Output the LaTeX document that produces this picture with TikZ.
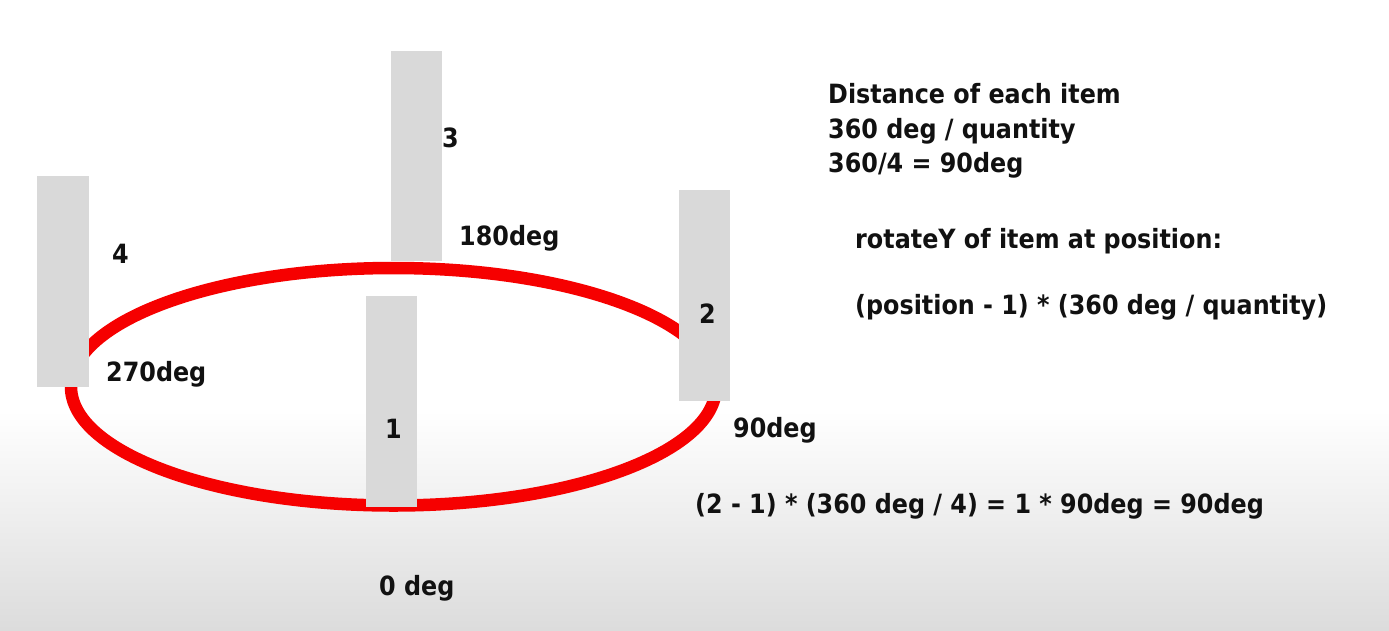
\documentclass[tikz,border=0pt]{standalone}
\usepackage{fontspec}
\setmainfont[FakeStretch=0.9]{DejaVu Sans}
\definecolor{bargray}{RGB}{217,217,217}
\definecolor{ringred}{RGB}{246,0,0}
\definecolor{txt}{RGB}{17,17,17}
\definecolor{bgbottom}{RGB}{220,220,220}
\tikzset{
  bar/.style={fill=bargray, draw=none, inner sep=0pt, anchor=north west},
  lbl/.style={anchor=base west, inner sep=0pt, text=txt, font=\fontsize{26.5}{31}\selectfont\bfseries},
  ring/.style={draw=ringred, line width=12.5pt}
}
\begin{document}
\begin{tikzpicture}[x=1pt, y=-1pt]
\useasboundingbox (0,0) rectangle (1389,630);
% background
\fill[white] (0,0) rectangle (1389,410);
\shade[top color=white, bottom color=bgbottom] (0,410) rectangle (1389,630);
% ring
\draw[ring] (393.5,386.75) ellipse [x radius=322.5pt, y radius=118.75pt];
% bars
\node[bar, minimum width=52pt, minimum height=211pt] (b4) at (37,176) {};
\node[bar, minimum width=51pt, minimum height=210pt] (b3) at (391,51) {};
\node[bar, minimum width=51pt, minimum height=211pt] (b2) at (679,190) {};
\node[bar, minimum width=51pt, minimum height=211pt] (b1) at (366,296) {};
% labels
\node[lbl] (n4) at (112,263) {4};
\node[lbl] (d270) at (106,381) {270deg};
\node[lbl] (n3) at (442,147) {3};
\node[lbl] (d180) at (459,245) {180deg};
\node[lbl] (n2) at (699,323) {2};
\node[lbl] (d90) at (733,437) {90deg};
\node[lbl] (n1) at (385,438) {1};
\node[lbl] (d0) at (379,595) {0 deg};
% side text
\node[lbl] (t1) at (828,103) {Distance of each item};
\node[lbl] (t2) at (828,138) {360 deg / quantity};
\node[lbl] (t3) at (828,172) {360/4 = 90deg};
\node[lbl] (t4) at (855,248) {rotateY of item at position:};
\node[lbl] (t5) at (855,314) {(position - 1) * (360 deg / quantity)};
\node[lbl] (t6) at (695,513) {(2 - 1) * (360 deg / 4) = 1 * 90deg = 90deg};
\end{tikzpicture}
\end{document}
